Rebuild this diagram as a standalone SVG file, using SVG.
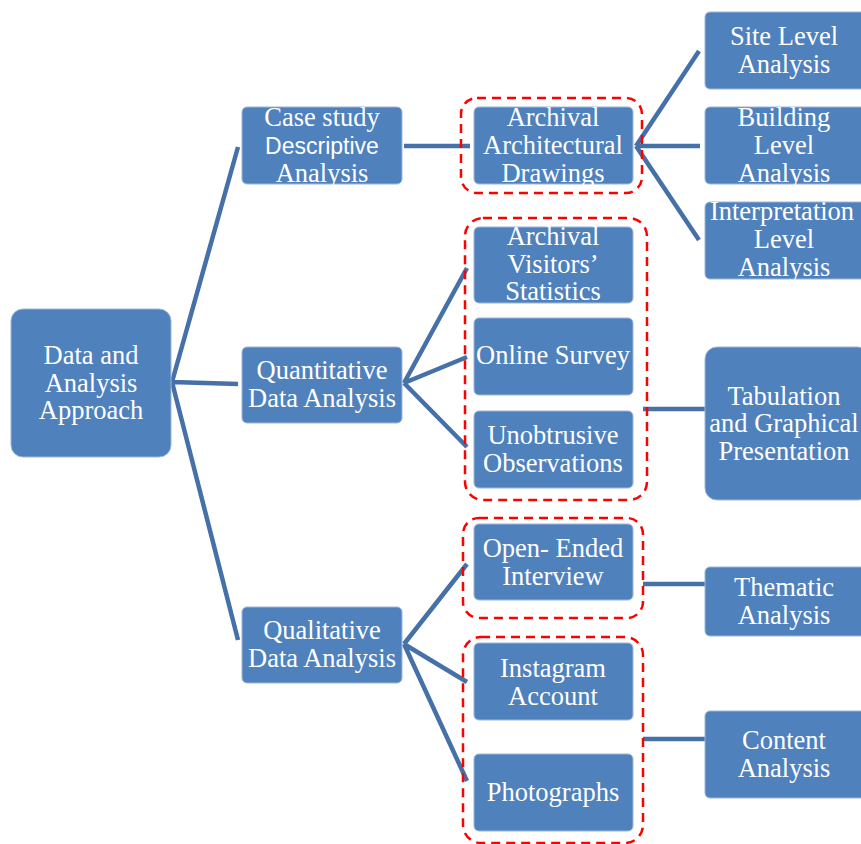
<svg xmlns="http://www.w3.org/2000/svg" width="861" height="844" viewBox="0 0 861 844">
<style>
.box{fill:#4F81BD;stroke:#9DB6D8;stroke-width:1}
.t{font-family:"Liberation Serif","Times New Roman",serif;font-size:26.5px;fill:#fff;text-anchor:middle}
.s{font-family:"Liberation Sans",Arial,sans-serif;font-size:23px;fill:#fff;text-anchor:middle}
.c{stroke:#4570A8;stroke-width:4.5;fill:none;stroke-linecap:butt}
.grp{fill:none;stroke:#FF0000;stroke-width:2.5;stroke-dasharray:9,6}
</style>
<rect width="861" height="844" fill="#fff"/>
<g id="connectors">
<path class="c" d="M172,382 L238,147 M172,382 L238,384 M172,382 L238,640"/>
<path class="c" d="M404,146 L470,146"/>
<path class="c" d="M636,146 L699,51 M636,146 L700,146 M636,146 L699,240"/>
<path class="c" d="M404,383 L467,268 M404,383 L467,357 M404,383 L467,447"/>
<path class="c" d="M643,409 L706,409"/>
<path class="c" d="M404,644 L467,564 M404,644 L467,682 M404,644 L467,781"/>
<path class="c" d="M643,584 L706,584"/>
<path class="c" d="M643,739 L706,739"/>
</g>
<g id="groups">
<rect class="grp" x="461" y="98" width="181" height="95" rx="16"/>
<rect class="grp" x="465" y="218" width="182" height="282" rx="18"/>
<rect class="grp" x="463" y="518" width="180" height="100" rx="16"/>
<rect class="grp" x="463" y="637" width="180" height="206" rx="18"/>
</g>
<g id="root"><rect class="box" x="11" y="309" width="160" height="148" rx="12"/>
<text class="t" x="91" y="364">Data and</text><text class="t" x="91" y="392">Analysis</text><text class="t" x="91" y="419">Approach</text></g>
<g id="casestudy"><rect class="box" x="242" y="107" width="160" height="77" rx="5"/>
<text class="t" x="322" y="126">Case study</text><text class="s" x="322" y="154">Descriptive</text><text class="t" x="322" y="182">Analysis</text></g>
<g id="quantitative"><rect class="box" x="242" y="347" width="160" height="76" rx="5"/>
<text class="t" x="322" y="379">Quantitative</text><text class="t" x="322" y="407">Data Analysis</text></g>
<g id="qualitative"><rect class="box" x="242" y="607" width="160" height="76" rx="5"/>
<text class="t" x="322" y="639">Qualitative</text><text class="t" x="322" y="667">Data Analysis</text></g>
<g id="archdrawings"><rect class="box" x="474" y="107" width="159" height="77" rx="5"/>
<text class="t" x="553" y="126">Archival</text><text class="t" x="553" y="154">Architectural</text><text class="t" x="553" y="182">Drawings</text></g>
<g id="visitors"><rect class="box" x="474" y="227" width="159" height="76" rx="5"/>
<text class="t" x="553" y="245">Archival</text><text class="t" x="553" y="273">Visitors’</text><text class="t" x="553" y="300">Statistics</text></g>
<g id="survey"><rect class="box" x="474" y="318" width="159" height="77" rx="5"/>
<text class="t" x="553" y="364">Online Survey</text></g>
<g id="unobtrusive"><rect class="box" x="474" y="411" width="159" height="77" rx="5"/>
<text class="t" x="553" y="444">Unobtrusive</text><text class="t" x="553" y="472">Observations</text></g>
<g id="openended"><rect class="box" x="474" y="524" width="159" height="76" rx="5"/>
<text class="t" x="553" y="557">Open- Ended</text><text class="t" x="553" y="585">Interview</text></g>
<g id="instagram"><rect class="box" x="474" y="643" width="159" height="77" rx="5"/>
<text class="t" x="553" y="677">Instagram</text><text class="t" x="553" y="705">Account</text></g>
<g id="photographs"><rect class="box" x="474" y="754" width="159" height="77" rx="5"/>
<text class="t" x="553" y="801">Photographs</text></g>
<g id="site"><rect class="box" x="705" y="12" width="162" height="77" rx="5"/>
<text class="t" x="784" y="45">Site Level</text><text class="t" x="784" y="73">Analysis</text></g>
<g id="building"><rect class="box" x="705" y="107" width="162" height="77" rx="5"/>
<text class="t" x="784" y="126">Building</text><text class="t" x="784" y="154">Level</text><text class="t" x="784" y="182">Analysis</text></g>
<g id="interpretation"><rect class="box" x="705" y="202" width="162" height="77" rx="5"/>
<text class="t" x="782" y="220">Interpretation</text><text class="t" x="784" y="248">Level</text><text class="t" x="784" y="276">Analysis</text></g>
<g id="tabulation"><rect class="box" x="705" y="347" width="165" height="153" rx="12"/>
<text class="t" x="784" y="405">Tabulation</text><text class="t" x="784" y="432">and Graphical</text><text class="t" x="784" y="460">Presentation</text></g>
<g id="thematic"><rect class="box" x="705" y="567" width="162" height="69" rx="5"/>
<text class="t" x="784" y="596">Thematic</text><text class="t" x="784" y="624">Analysis</text></g>
<g id="content"><rect class="box" x="705" y="711" width="162" height="87" rx="5"/>
<text class="t" x="784" y="749">Content</text><text class="t" x="784" y="777">Analysis</text></g>
</svg>
